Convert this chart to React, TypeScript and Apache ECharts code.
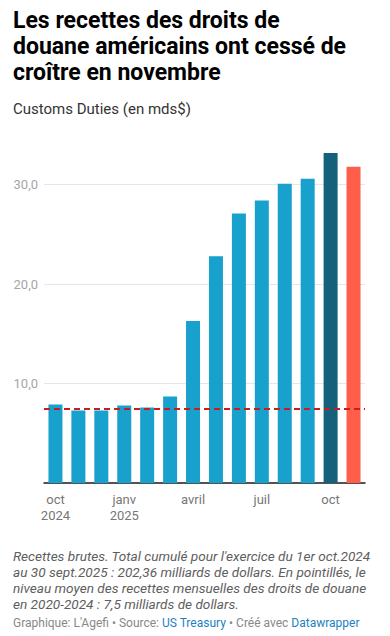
import React, { useEffect, useRef } from "react";
import * as echarts from "echarts";

const months = ["2024-10", "2024-11", "2024-12", "2025-01", "2025-02", "2025-03", "2025-04", "2025-05", "2025-06", "2025-07", "2025-08", "2025-09", "2025-10", "2025-11"];
const tickLabels: Record<string, string> = {
  "2024-10": "oct\n2024",
  "2025-01": "janv\n2025",
  "2025-04": "avril",
  "2025-07": "juil",
  "2025-10": "oct",
};
const duties = [7.9, 7.3, 7.3, 7.8, 7.6, 8.7, 16.3, 22.8, 27.1, 28.4, 30.1, 30.6, 33.2, 31.8];
const avgLevel = 7.5;
const yTicks = [0, 10, 20, 30];

const BLUE = "#18a1cd";
const DARK = "#15607a";
const RED = "#ff5f4a";

const title = "Les recettes des droits de\ndouane américains ont cessé de\ncroître en novembre";
const subtitle = "Customs Duties (en mds$)";
const notes =
  "Recettes brutes. Total cumulé pour l'exercice du 1er oct.2024\nau 30 sept.2025 : 202,36 milliards de dollars. En pointillés, le\nniveau moyen des recettes mensuelles des droits de douane\nen 2020-2024 : 7,5 milliards de dollars.";

export default function App() {
  const ref = useRef<HTMLDivElement>(null);
  useEffect(() => {
    if (!ref.current) return;
    const chart = echarts.init(ref.current, null, { renderer: "svg" });
    const font = "Roboto, 'Noto Sans', sans-serif";
    chart.setOption({
      animation: false,
      textStyle: { fontFamily: font },
      grid: { left: 44, right: 25, top: 135, height: 348, containLabel: false },
      xAxis: {
        type: "category",
        data: months,
        axisLine: { show: true, lineStyle: { color: "#1a1a1a", width: 1.5 } },
        axisTick: { show: false },
        axisLabel: {
          interval: 0,
          margin: 8,
          color: "#777",
          fontSize: 13,
          lineHeight: 16,
          fontFamily: font,
          formatter: (v: string) => tickLabels[v] || "",
        },
      },
      yAxis: {
        type: "value",
        min: yTicks[0],
        max: 35,
        interval: 10,
        axisLine: { show: false },
        axisTick: { show: false },
        axisLabel: {
          showMaxLabel: false,
          margin: 6,
          color: "#a6a6a6",
          fontSize: 13,
          fontFamily: font,
          formatter: (v: number) => (v === 0 ? "" : v.toFixed(1).replace(".", ",")),
        },
        splitLine: { show: true, showMinLine: false, showMaxLine: false, lineStyle: { color: "#e6e6e6", width: 1 } },
      },
      series: [
        {
          type: "bar",
          barWidth: 14,
          data: duties.map((v, i) => ({
            value: v,
            itemStyle: { color: i === duties.length - 1 ? RED : i === duties.length - 2 ? DARK : BLUE },
          })),
          markLine: {
            silent: true,
            symbol: ["none", "none"],
            label: { show: false },
            lineStyle: { color: "#c71e1d", type: [6, 4], width: 2 },
            data: [{ yAxis: avgLevel }],
          },
        },
      ],
      graphic: [
        {
          type: "text",
          left: 13,
          top: 7,
          style: { text: title, font: `bold 23px ${font}`, lineHeight: 26, fill: "#000" },
        },
        {
          type: "text",
          left: 13,
          top: 101,
          style: { text: subtitle, font: `15px ${font}`, fill: "#333" },
        },
        {
          type: "text",
          left: 13,
          top: 548,
          style: { text: notes, font: `italic 13.6px ${font}`, lineHeight: 16, fill: "#5e5e5e" },
        },
        {
          type: "text",
          left: 13,
          top: 617,
          style: {
            text: "{g|Graphique: L'Agefi • Source: }{b|US Treasury}{g| • Créé avec }{b|Datawrapper}",
            font: `12px ${font}`,
            rich: {
              g: { fill: "#888", fontSize: 12, fontFamily: font },
              b: { fill: "#1d81c2", fontSize: 12, fontFamily: font },
            },
          },
        },
      ],
    });
    return () => chart.dispose();
  }, []);
  return (
    <div
      ref={ref}
      style={{ position: "fixed", left: 0, top: 0, width: 390, height: 636, background: "#fff" }}
    />
  );
}
